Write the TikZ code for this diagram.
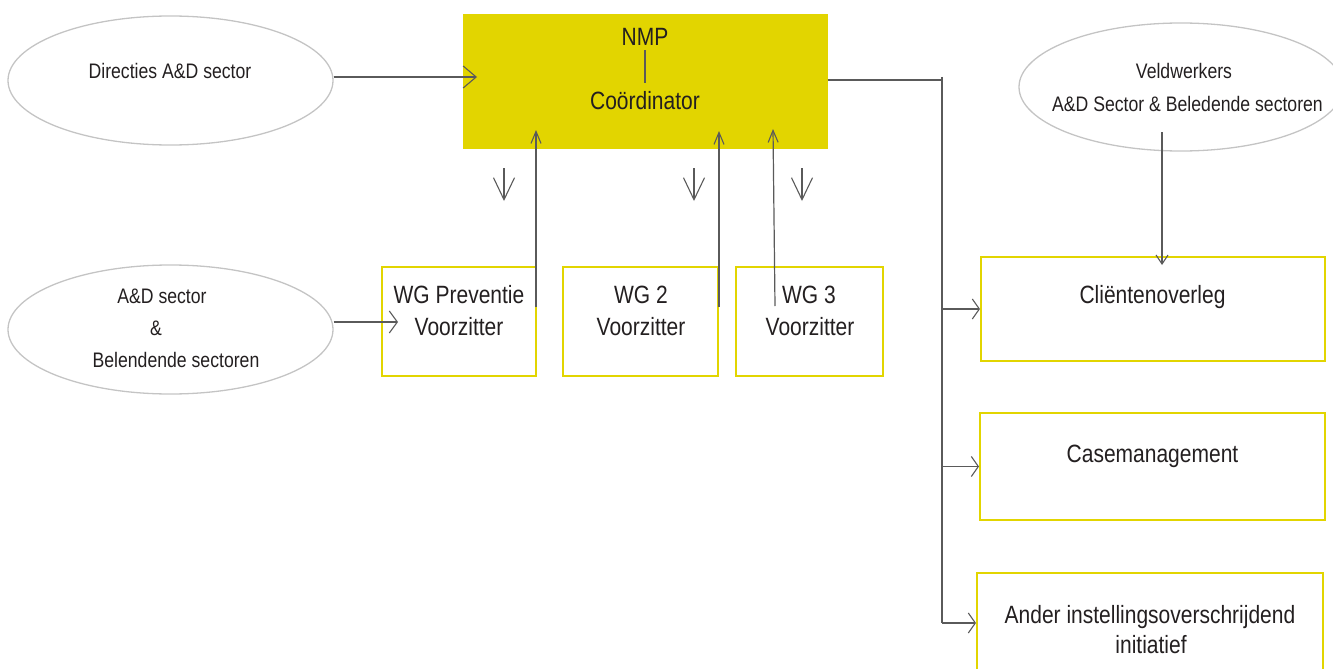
\documentclass[tikz,border=0pt]{standalone}
\usepackage{fontspec}
\setmainfont{Liberation Sans}[FakeStretch=0.84]
\usetikzlibrary{arrows.meta,shapes.geometric}
\definecolor{myyellow}{HTML}{E2D500}
\definecolor{ellgray}{HTML}{C4C4C4}
\definecolor{arrgray}{HTML}{5A5A5A}
\definecolor{txtcol}{HTML}{231F20}
\tikzset{
  ybox/.style={draw=myyellow, line width=2pt, rectangle, inner sep=0pt},
  fbox/.style={fill=myyellow, draw=myyellow, line width=1pt, rectangle, inner sep=0pt},
  ell/.style={draw=ellgray, line width=1.3pt, ellipse, inner sep=0pt},
  small/.style={inner sep=0pt, anchor=base, text=txtcol, font=\fontsize{21}{25}\selectfont},
  big/.style={inner sep=0pt, anchor=base, text=txtcol, font=\fontsize{25}{30}\selectfont},
  conn/.style={draw=arrgray, line width=1.2pt},
  arr/.style 2 args={conn, -{Straight Barb[length=#1pt, width=#2pt, line width=1.1pt]}}
}
\begin{document}
\begin{tikzpicture}[x=1pt,y=-1pt]
\useasboundingbox (0,0) rectangle (1333,669);
\clip (0,0) rectangle (1333,669);

% boxes
\node[fbox, minimum width=364pt, minimum height=133pt] (coord) at (645,81.5) {};
\node[ybox, minimum width=154pt, minimum height=109pt] (wg1) at (459,321.5) {};
\node[ybox, minimum width=155pt, minimum height=109pt] (wg2) at (640.5,321.5) {};
\node[ybox, minimum width=147pt, minimum height=109pt] (wg3) at (809.5,321.5) {};
\node[ybox, minimum width=344pt, minimum height=104pt] (cl) at (1153,309) {};
\node[ybox, minimum width=345pt, minimum height=107pt] (cm) at (1152.5,466.5) {};
\node[ybox, minimum width=346pt, minimum height=134pt] (an) at (1150,640) {};

% ellipses
\node[ell, minimum width=325pt, minimum height=129pt] (dir) at (170.5,80.5) {};
\node[ell, minimum width=325pt, minimum height=129pt] (ad) at (170.5,329.5) {};
\node[ell, minimum width=324pt, minimum height=128pt] (veld) at (1181,87) {};

% texts
\node[big] (nmp) at (645,46) {NMP};
\node[big] (cord) at (645,110) {Coördinator};
\node[small] (dirt) at (170,78) {Directies A\&D sector};
\node[big] (wg1a) at (459,303) {WG Preventie};
\node[big] (wg1b) at (459,335) {Voorzitter};
\node[big] (wg2a) at (641,303) {WG 2};
\node[big] (wg2b) at (641,335) {Voorzitter};
\node[big] (wg3a) at (809,303) {WG 3};
\node[big] (wg3b) at (810,335) {Voorzitter};
\node[small] (ada) at (162,303) {A\&D sector};
\node[small] (adb) at (156,335) {\&};
\node[small] (adc) at (176,367) {Belendende sectoren};
\node[small] (vela) at (1184,78) {Veldwerkers};
\node[small] (velb) at (1187.5,111) {A\&D Sector \& Beledende sectoren};
\node[big] (clt) at (1152.5,303) {Cliëntenoverleg};
\node[big] (cmt) at (1152.5,462) {Casemanagement};
\node[big] (ana) at (1150,623) {Ander instellingsoverschrijdend};
\node[big] (anb) at (1151,653) {initiatief};

% coordinates
\coordinate (dirtip) at (477,77);
\coordinate (adtip) at (398,322);
\coordinate (jn) at (942,80);
\coordinate (bustop) at (942,77);
\coordinate (busbot) at (942,623);
\coordinate (vs) at (1162,132);
\coordinate (vt) at (1162,265);
\coordinate (u1s) at (536,307); \coordinate (u1t) at (536,130);
\coordinate (u2s) at (719,307); \coordinate (u2t) at (719,131);
\coordinate (u3s) at (775,306); \coordinate (u3t) at (773,129);
\coordinate (d1s) at (504,168); \coordinate (d1t) at (504,201);
\coordinate (d2s) at (694,168); \coordinate (d2t) at (694,201);
\coordinate (d3s) at (802,168); \coordinate (d3t) at (802,201);

% connectors
\draw[conn, shorten <=4pt, shorten >=9pt] (nmp.south) -- (cord.north);
\draw[arr={13}{22}] (dir.east |- dirtip) -- (dirtip);
\draw[arr={8}{22}] (ad.east |- adtip) -- (adtip);
\draw[arr={22}{21}] (d1s) -- (d1t);
\draw[arr={22}{21}] (d2s) -- (d2t);
\draw[arr={22}{21}] (d3s) -- (d3t);
\draw[arr={12}{10}] (u1s) -- (u1t);
\draw[arr={12}{10}] (u2s) -- (u2t);
\draw[arr={12}{10}] (u3s) -- (u3t);
\draw[conn] (coord.east |- jn) -- (jn);
\draw[conn] (bustop) -- (busbot);
\draw[arr={7}{20}] (cl.west -| bustop) -- (cl.west);
\draw[arr={7}{20}] (cm.west -| bustop) -- (cm.west);
\draw[arr={7}{20}] (busbot) -- (an.west |- busbot);
\draw[arr={9}{12}] (vs) -- (vt);
\end{tikzpicture}
\end{document}
